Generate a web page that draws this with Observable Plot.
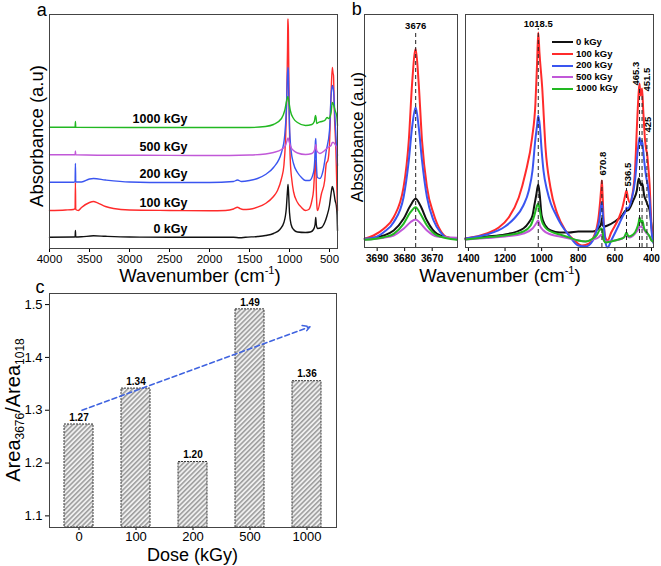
<!DOCTYPE html>
<html><head><meta charset="utf-8">
<script src="https://cdn.jsdelivr.net/npm/d3@7"></script>
<script src="https://cdn.jsdelivr.net/npm/@observablehq/plot@0.6"></script>
<style>
body{margin:0;background:#fff;font-family:"Liberation Sans",Arial,sans-serif;}
#fig{position:relative;width:661px;height:566px;overflow:hidden;background:#fff;}
#fig svg{position:absolute;overflow:visible;}
.lbl{position:absolute;white-space:nowrap;color:#000;line-height:1;}
.lbl sup{font-size:60%;vertical-align:0.7em;line-height:0;}
.lbl sub{font-size:60%;vertical-align:-0.35em;line-height:0;}
</style></head><body><div id="fig"></div>
<script>
const FONT = '"Liberation Sans", Arial, sans-serif';
const doses = ["0 kGy","100 kGy","200 kGy","500 kGy","1000 kGy"];
const colors = ["#111111","#ff2b2b","#3a55f0","#c158d8","#22b822"];

// ---- Panel a: full spectra (wavenumber, absorbance a.u., stacked) ----
const a0 = [[4000,11.3],[3700,11.5],[3680,11.7],[3676,18],[3672,11.5],[3600,11.7],[3450,12.7],[3300,12.2],[3000,11.5],[2500,11.3],[2000,11.3],[1700,11.3],[1620,10.7],[1550,11.3],[1400,12],[1300,13],[1200,15],[1120,19],[1070,26],[1040,40],[1025,58],[1018,64],[1010,53],[1000,36],[980,24],[950,19],[900,16.5],[800,16],[740,16.5],[700,19],[680,24],[672,31],[665,24],[650,20],[600,21],[560,26],[530,33],[500,43],[475,58],[465,62],[455,60],[445,56],[430,48],[415,43],[405,33],[400,18]];
const a100 = [[4000,38],[3800,38.5],[3700,39],[3680,40],[3676,66],[3672,39],[3640,38],[3600,41],[3500,46],[3450,47],[3400,45.7],[3300,42],[3200,40],[3000,38.5],[2500,38],[2000,37.7],[1800,38],[1700,39.5],[1650,41.3],[1620,40],[1580,39],[1500,39.3],[1400,41.3],[1300,45],[1200,52],[1150,58],[1100,70],[1070,83],[1050,108],[1035,148],[1025,198],[1020,228],[1018,229.5],[1014,218],[1008,168],[1000,118],[990,88],[970,68],[950,57],[900,46],[850,41],[800,38],[760,39],[720,48],[700,58],[685,78],[675,88],[670,88],[665,60],[655,40],[650,38],[600,55],[560,68],[540,85],[520,88],[500,105],[480,155],[465,181],[455,175],[450,173],[440,138],[420,98],[405,51],[400,38]];
const a200 = [[4000,66.3],[3700,66.3],[3680,67],[3676,85],[3672,66.5],[3600,66.5],[3500,69.5],[3450,70],[3300,68.5],[3000,66.5],[2500,66],[2000,66],[1700,67],[1650,68.5],[1600,67],[1500,68],[1400,70],[1300,74],[1200,81],[1100,96],[1060,113],[1040,138],[1028,168],[1020,181],[1015,178],[1008,148],[1000,123],[980,98],[950,85],[900,76],[850,71],[800,68],[750,68],[700,76],[685,88],[675,108],[670,110],[665,88],[650,71],[620,70],[580,78],[540,98],[500,118],[480,153],[465,163],[450,158],[430,128],[410,98],[400,83]];
const a500 = [[4000,93.7],[3700,93.7],[3680,93.7],[3676,97.5],[3672,93.7],[3400,93.3],[3000,93.3],[2000,93],[1500,93.5],[1300,94.5],[1200,96],[1100,99],[1050,103],[1030,108],[1018,110.5],[1005,107],[980,101],[950,98],[900,95.5],[800,94],[720,95],[690,98],[675,102],[670,104],[660,98],[620,95],[560,98],[520,101],[480,103],[465,106],[450,106],[430,104],[410,101],[400,93]];
const a1000 = [[4000,121.3],[3700,121.3],[3680,121.3],[3676,127],[3672,121.3],[3000,121],[2000,121],[1500,121],[1300,122],[1200,124],[1100,130],[1060,138],[1035,148],[1020,152],[1010,148],[990,138],[950,130],[900,126],[800,123],[720,124],[690,127],[675,133],[668,131],[660,125],[640,126],[600,127],[560,128],[530,131],[510,130],[480,136],[465,146],[450,144],[430,138],[410,133],[400,123]];
const labelWnA = 2275;

// ---- Panel b (left): O-H stretch region ----
const bl0 = [[3694.5,8.7],[3687.6,12],[3684,17],[3680.4,28.7],[3677.9,42],[3676,48.7],[3674.3,42],[3671.9,27],[3668.2,13.7],[3661,8.3]];
const bl100 = [[3694.5,8.7],[3691.3,12],[3687.6,18.7],[3684,30.3],[3680.4,60.3],[3678.5,107],[3677.3,164],[3676,198.7],[3674.9,164],[3673.7,107],[3671.9,60.3],[3669.5,33.7],[3667,17],[3664.6,10.3],[3661,8.7]];
const bl200 = [[3694.5,8.7],[3691.3,9.7],[3687.6,15.3],[3684,25.3],[3680.4,50.3],[3678.5,87],[3677.3,120.3],[3676,140.3],[3674.9,120.3],[3673.7,87],[3671.9,50.3],[3669.5,27],[3667,15.3],[3664.6,9.7],[3661,8.7]];
const bl500 = [[3694.5,7.7],[3687.6,9.7],[3684,12],[3680.4,18.7],[3677.9,25.3],[3676,28],[3674.3,24.3],[3671.9,17],[3668.2,11],[3661,9.7]];
const bl1000 = [[3694.5,7.7],[3687.6,10.3],[3684,13.7],[3680.4,23.7],[3677.9,35.3],[3676,40.3],[3674.3,33.7],[3671.9,22],[3668.2,12],[3661,7.7]];
const peaksL = [{wn:3676, top:217, label:"3676"}];

// ---- Panel b (right): lattice region ----
const br0 = [[1416,9],[1300,11],[1200,13],[1100,19],[1070,25],[1050,32],[1040,42],[1030,52],[1018.5,63],[1010,52],[1000,32],[980,22],[950,17],[900,15],[850,15],[800,16],[720,16],[690,19],[675,24],[670.8,29],[665,22],[660,21],[640,22],[600,26],[560,32],[540,37],[530,37],[500,47],[480,57],[470,69],[465.3,67],[455,62],[450,64],[440,52],[430,47],[420,42],[410,37],[400,22],[392,10]];
const br100 = [[1416,9],[1300,14],[1234,20],[1180,30],[1125,50],[1089,74],[1052,110],[1034,144],[1025,184],[1018.5,215],[1012,195],[997,160],[979,100],[952,60],[915,34],[870,17],[820,7],[780,2],[740,4],[720,9],[700,19],[690,29],[680,47],[672,65],[670.8,67],[668,57],[660,22],[650,9],[640,7],[620,15],[580,29],[560,39],[545,51],[536.5,57],[528,49],[518,45],[505,52],[490,77],[478,127],[470,155],[465.3,164],[460,152],[455,155],[451.5,159],[445,137],[435,107],[428,97],[425,95],[418,82],[410,62],[404,37],[400,22],[392,7]];
const br200 = [[1416,9],[1300,13],[1200,21],[1150,29],[1100,42],[1070,57],[1050,77],[1035,107],[1025,122],[1018.5,132],[1010,122],[1000,97],[990,77],[970,57],[950,44],[920,32],[900,25],[850,12],[800,2],[760,1],[720,7],[700,17],[685,27],[675,42],[670.8,45],[665,32],[650,4],[640,0],[620,7],[580,22],[555,32],[540,37],[536.5,40],[530,39],[510,47],[490,67],[475,97],[465.3,110],[455,102],[451.5,107],[440,87],[430,72],[420,62],[410,47],[400,17],[392,5]];
const br500 = [[1416,8],[1300,9.5],[1200,11],[1100,14],[1050,19],[1030,24],[1018.5,27],[1010,22],[990,17],[950,13],[900,11],[850,9],[800,7],[760,6],[720,8],[690,10],[670.8,13],[660,7],[640,6],[600,7],[560,9],[536.5,12],[520,10],[490,14],[470,19],[465.3,21],[450,20],[430,15],[410,11],[400,7],[392,6]];
const br1000 = [[1416,8],[1300,10.3],[1200,12],[1100,16],[1060,22],[1040,32],[1025,42],[1018.5,44],[1010,37],[1000,27],[980,20],[950,16],[900,13],[850,10],[800,7],[760,6],[720,9],[700,12],[685,17],[670.8,19],[660,7],[650,5],[620,6],[580,8],[550,10],[536.5,15],[525,11],[500,13],[480,19],[470,25],[465.3,30],[455,25],[450,27],[440,19],[425,15],[410,11],[400,7],[392,6]];
const peaksR = [
  {wn:1018.5, top:219, label:"1018.5"},
  {wn:670.8, top:70, label:"670.8"},
  {wn:536.5, top:59, label:"536.5"},
  {wn:465.3, top:160, label:"465.3"},
  {wn:451.5, top:154, label:"451.5"},
  {wn:425, top:113, label:"425"}
];

// ---- Panel c: area ratio ----
const cDoses = ["0","100","200","500","1000"];
const cRatio = [1.273, 1.341, 1.202, 1.491, 1.355];
const cLabels = ["1.27","1.34","1.20","1.49","1.36"];
const cTrend = [{from:"0", fromV:1.30, to:"1000", toV:1.458}];
const cYDomain = [1.078, 1.521];

function rows(list){ return list.flatMap((pts,i)=>pts.map(([wn,v])=>({dose:doses[i], wn, v}))); }
const fig = document.getElementById("fig");
function place(svg, left, top){ svg.style.left = left+"px"; svg.style.top = top+"px"; fig.appendChild(svg); }
function label(html, cx, cy, size, rot, weight){
  const d = document.createElement("div");
  d.className = "lbl"; d.innerHTML = html;
  d.style.left = cx+"px"; d.style.top = cy+"px";
  d.style.fontSize = size+"px"; d.style.fontWeight = weight||"normal";
  d.style.transform = "translate(-50%,-50%)" + (rot ? " rotate("+rot+"deg)" : "");
  fig.appendChild(d);
}

const colorScale = {domain: doses, range: colors};

// Panel a
const seriesA = [a0,a100,a200,a500,a1000];
const svgA = Plot.plot({
  width:345, height:280, marginTop:14, marginBottom:32, marginLeft:49, marginRight:8,
  style:{fontFamily:FONT, fontSize:"11.5px", color:"#000", background:"transparent", overflow:"visible"},
  x:{domain:[4000,400], ticks:8, tickSize:4, tickPadding:2, tickFormat:"d", label:null},
  y:{domain:[0,234], axis:null},
  color:colorScale,
  marks:[
    Plot.line(rows(seriesA), {x:"wn", y:"v", z:"dose", stroke:"dose", strokeWidth:1.4, curve:"monotone-x"}),
    Plot.text(doses.map((d,i)=>({dose:d, wn:labelWnA, v:seriesA[i][0][1]})), {x:"wn", y:"v", text:"dose", textAnchor:"end", dy:-8, fontWeight:"bold", fontSize:12.5, fill:"#000"}),
    Plot.frame({stroke:"#444"})
  ]
});
place(svgA, 0, 0);

// Panel b left
const svgB1 = Plot.plot({
  width:122, height:280, marginTop:14, marginBottom:33, marginLeft:24, marginRight:5,
  style:{fontFamily:FONT, fontSize:"10px", fontWeight:"bold", color:"#000", background:"transparent", overflow:"visible"},
  x:{domain:[3694.6,3660.8], ticks:3, tickSize:4, tickPadding:3, tickFormat:"d", label:null},
  y:{domain:[0,233], axis:null},
  color:colorScale,
  marks:[
    Plot.line(rows([bl0,bl100,bl200,bl500,bl1000]), {x:"wn", y:"v", z:"dose", stroke:"dose", strokeWidth:2, curve:"monotone-x"}),
    Plot.ruleX(peaksL, {x:"wn", y1:0, y2:"top", stroke:"#222", strokeWidth:1, strokeDasharray:"4,3"}),
    Plot.text(peaksL, {x:"wn", y:"top", text:"label", lineAnchor:"bottom", dy:-2, fontSize:9.5, fontWeight:"bold", fill:"#000"}),
    Plot.frame({stroke:"#444"})
  ]
});
place(svgB1, 340, 0);

// Panel b right
const rot = peaksR.filter(p=>p.wn!==1018.5);
const svgB2 = Plot.plot({
  width:201, height:280, marginTop:14, marginBottom:33, marginLeft:5, marginRight:8,
  style:{fontFamily:FONT, fontSize:"10px", fontWeight:"bold", color:"#000", background:"transparent", overflow:"visible"},
  x:{domain:[1416,389], ticks:6, tickSize:4, tickPadding:3, tickFormat:"d", label:null},
  y:{domain:[0,233], axis:null},
  color:colorScale,
  marks:[
    Plot.line(rows([br0,br100,br200,br500,br1000]), {x:"wn", y:"v", z:"dose", stroke:"dose", strokeWidth:2, curve:"monotone-x"}),
    Plot.ruleX(peaksR, {x:"wn", y1:0, y2:"top", stroke:"#222", strokeWidth:1, strokeDasharray:"4,3"}),
    Plot.text(peaksR.filter(p=>p.wn===1018.5), {x:"wn", y:"top", text:"label", lineAnchor:"bottom", dy:-2, fontSize:9.5, fontWeight:"bold", fill:"#000"}),
    Plot.text(rot.filter(p=>p.wn!==465.3 && p.wn!==451.5), {x:"wn", y:"top", text:"label", rotate:-90, textAnchor:"start", lineAnchor:"middle", dx:1.5, dy:-2, fontSize:9.5, fontWeight:"bold", fill:"#000"}),
    Plot.text(rot.filter(p=>p.wn===465.3), {x:"wn", y:"top", text:"label", rotate:-90, textAnchor:"start", lineAnchor:"middle", dx:-4, dy:-2, fontSize:9.5, fontWeight:"bold", fill:"#000"}),
    Plot.text(rot.filter(p=>p.wn===451.5), {x:"wn", y:"top", text:"label", rotate:-90, textAnchor:"start", lineAnchor:"middle", dx:4.5, dy:-2, fontSize:9.5, fontWeight:"bold", fill:"#000"}),
    Plot.frame({stroke:"#444"})
  ]
});
place(svgB2, 460, 0);

// Panel c
const cData = cDoses.map((d,i)=>({dose:d, ratio:cRatio[i], label:cLabels[i]}));
const svgC = Plot.plot({
  width:345, height:286, marginTop:13, marginBottom:39, marginLeft:49, marginRight:9,
  style:{fontFamily:FONT, fontSize:"13px", color:"#000", background:"transparent", overflow:"visible"},
  x:{domain:cDoses, paddingInner:0.5, paddingOuter:0.25, tickSize:3, tickPadding:1, label:null},
  y:{domain:cYDomain, ticks:5, tickSize:4, tickPadding:3, tickFormat:".1f", label:null},
  marks:[
    Plot.barY(cData, {x:"dose", y1:cYDomain[0], y2:"ratio", fill:"url(#hatch)", stroke:"#3a3a3a", strokeWidth:1, strokeDasharray:"2,1"}),
    Plot.text(cData, {x:"dose", y:"ratio", text:"label", dy:-7, fontSize:10, fontWeight:"bold", fill:"#000"}),
    Plot.arrow(cTrend, {x1:"from", y1:"fromV", x2:"to", y2:"toV", dx:3, stroke:"#3f63e0", strokeWidth:1.5, strokeDasharray:"5,3", headLength:8}),
    Plot.frame({stroke:"#444"})
  ]
});
const defs = d3.select(svgC).insert("defs", ":first-child");
const pat = defs.append("pattern").attr("id","hatch").attr("patternUnits","userSpaceOnUse")
  .attr("width",3.4).attr("height",3.4).attr("patternTransform","rotate(45)");
pat.append("rect").attr("width",3.4).attr("height",3.4).attr("fill","#efefef");
pat.append("line").attr("x1",0.8).attr("y1",0).attr("x2",0.8).attr("y2",3.4).attr("stroke","#858585").attr("stroke-width",1.2);
place(svgC, 0, 280);

// Legend (panel b right)
const leg = document.createElement("div");
leg.style.cssText = "position:absolute;left:552px;top:36px;font:bold 9.5px "+FONT+";line-height:11.6px;color:#000;";
leg.innerHTML = doses.map((d,i)=>'<div style="white-space:nowrap"><span style="display:inline-block;width:21px;height:0;border-top:2.5px solid '+colors[i]+';vertical-align:middle;margin-right:3px"></span>'+d+'</div>').join("");
fig.appendChild(leg);

// Text labels
label("a", 41.7, 10, 18);
label("b", 356.7, 9, 18);
label("c", 40, 287, 18);
label("Wavenumber (cm<sup>-1</sup>)", 200, 276, 18.5);
label("Wavenumber (cm<sup>-1</sup>)", 500, 276, 18.5);
label("Absorbance (a.u)", 36.7, 136, 18.5, -90);
label("Absorbance (a.u)", 356.7, 137, 17, -90);
label("Area<sub>3676</sub>/Area<sub>1018</sub>", 13, 410, 20, -90);
label("Dose (kGy)", 192.5, 555, 18);
</script></body></html>
